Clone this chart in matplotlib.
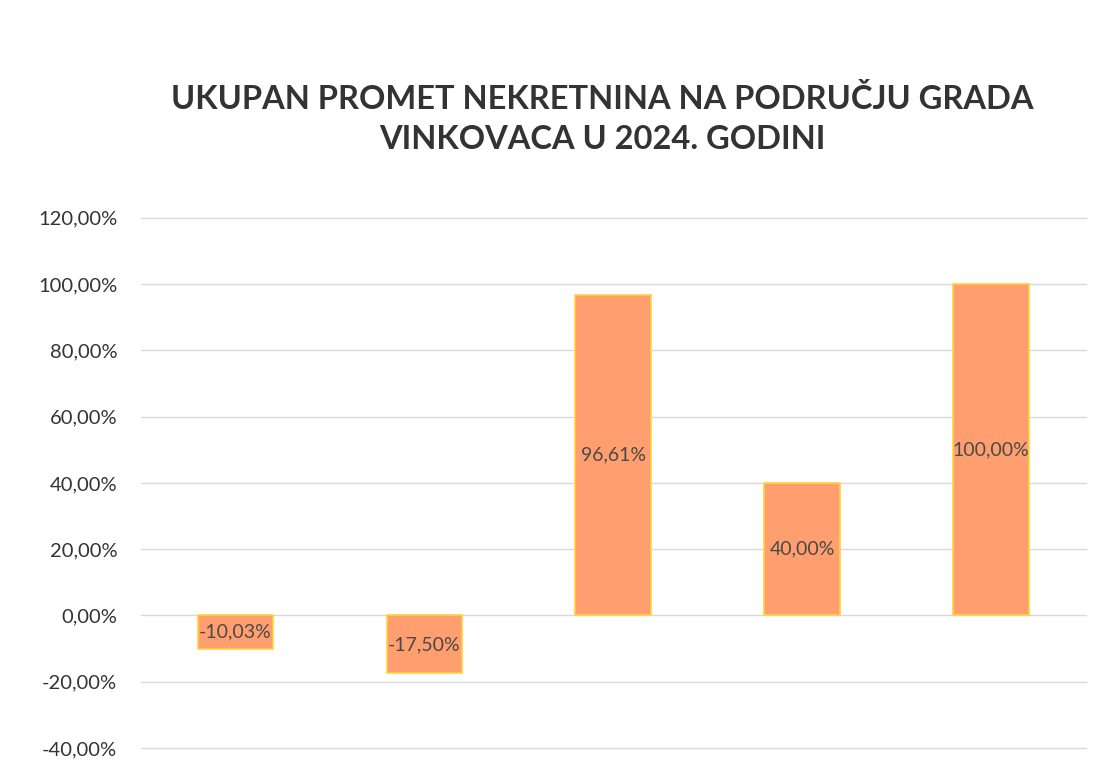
import matplotlib.pyplot as plt
from matplotlib.ticker import FuncFormatter

# podaci
kategorije = ['1', '2', '3', '4', '5']
vrijednosti = [-10.03, -17.50, 96.61, 40.00, 100.00]
oznake = ['-10,03%', '-17,50%', '96,61%', '40,00%', '100,00%']
y_ticks = [-40, -20, 0, 20, 40, 60, 80, 100, 120]

plt.rcParams['font.family'] = ['Lato', 'DejaVu Sans']

fig = plt.figure(figsize=(11.09, 7.72), dpi=100)
ax = fig.add_axes([0.127, 0.031, 0.852, 0.687])

x = range(len(kategorije))
bars = ax.bar(x, vrijednosti, width=0.4, color='#FF9E6E', edgecolor='#FFD23C',
              linewidth=1.2, zorder=3)

for b, v, lab in zip(bars, vrijednosti, oznake):
    ax.text(b.get_x() + b.get_width() / 2, v / 2, lab, ha='center', va='center',
            fontsize=14, color='#4a4a4a', zorder=4)

ax.set_ylim(-40, 120)
ax.set_xlim(-0.5, len(kategorije) - 0.5)
ax.set_yticks(y_ticks)
ax.yaxis.set_major_formatter(FuncFormatter(lambda v, p: f'{v:.2f}%'.replace('.', ',')))
ax.set_xticks([])
ax.tick_params(axis='y', length=0, labelsize=14.5, labelcolor='#333333', pad=17)
ax.grid(axis='y', color='#d9d9d9', linewidth=1, zorder=0)
for gl in ax.get_ygridlines():
    gl.set_clip_on(False)
for s in ax.spines.values():
    s.set_visible(False)

fig.text(0.543, 0.846, 'UKUPAN PROMET NEKRETNINA NA PODRUČJU GRADA\nVINKOVACA U 2024. GODINI',
         ha='center', va='center', fontsize=23.5, fontweight='bold', color='#333333',
         linespacing=1.45)

fig.savefig('out.png', dpi=100)
